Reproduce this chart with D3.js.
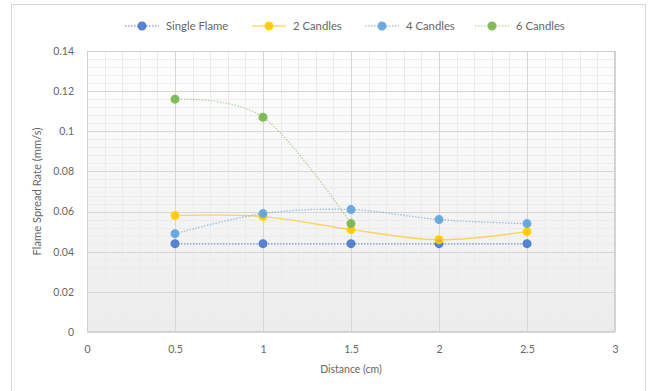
<!DOCTYPE html>
<html><head><meta charset="utf-8">
<script src="https://cdn.jsdelivr.net/npm/d3@7"></script>
<style>body{margin:0;background:#fff;}svg{display:block;font-family:Lato,"Open Sans",sans-serif;}</style>
</head><body><svg id="c" width="658" height="391"></svg>
<script>
const distances = [0.5, 1, 1.5, 2, 2.5];
const seriesNames = ["Single Flame", "2 Candles", "4 Candles", "6 Candles"];
const singleFlame = [0.044, 0.044, 0.044, 0.044, 0.044];
const twoCandles = [0.058, 0.0575, 0.051, 0.046, 0.050];
const fourCandles = [0.049, 0.059, 0.061, 0.056, 0.054];
const sixCandles = [0.116, 0.107, 0.054];
const seriesColors = ["#4472C4", "#FFC000", "#5B9BD5", "#70AD47"];
const xTicks = [0, 0.5, 1, 1.5, 2, 2.5, 3];
const yTicks = [0, 0.02, 0.04, 0.06, 0.08, 0.1, 0.12, 0.14];

const svg = d3.select("#c");
const L = 87, R = 615, T = 51, B = 332;
const x = d3.scaleLinear().domain([0, 3]).range([L, R]);
const y = d3.scaleLinear().domain([0, 0.14]).range([B, T]);

// outer chart border
svg.append("rect").attr("x", 11.5).attr("y", 4.5).attr("width", 634).attr("height", 400)
  .attr("fill", "#fff").attr("stroke", "#d9d9d9");

// plot gradient
const defs = svg.append("defs");
const g = defs.append("linearGradient").attr("id", "bg").attr("x1", 0).attr("y1", 0).attr("x2", 0).attr("y2", 1);
g.append("stop").attr("offset", "0%").attr("stop-color", "#ffffff");
g.append("stop").attr("offset", "100%").attr("stop-color", "#ececec");
svg.append("rect").attr("x", L).attr("y", T).attr("width", R - L).attr("height", B - T).attr("fill", "url(#bg)");

// minor grid
const minorX = d3.range(0, 3.0001, 0.1);
const minorY = d3.range(0, 0.14001, 0.004);
svg.append("g").selectAll("line").data(minorX).join("line")
  .attr("x1", d => Math.round(x(d)) + 0.5).attr("x2", d => Math.round(x(d)) + 0.5)
  .attr("y1", T).attr("y2", B).attr("stroke", "#ececec").attr("stroke-width", 1);
svg.append("g").selectAll("line").data(minorY).join("line")
  .attr("y1", d => Math.round(y(d)) + 0.5).attr("y2", d => Math.round(y(d)) + 0.5)
  .attr("x1", L).attr("x2", R).attr("stroke", "#ececec").attr("stroke-width", 1);
// major grid
svg.append("g").selectAll("line").data(xTicks).join("line")
  .attr("x1", d => Math.round(x(d)) + 0.5).attr("x2", d => Math.round(x(d)) + 0.5)
  .attr("y1", T).attr("y2", B).attr("stroke", "#d6d6d6").attr("stroke-width", 1);
svg.append("g").selectAll("line").data(yTicks).join("line")
  .attr("y1", d => Math.round(y(d)) + 0.5).attr("y2", d => Math.round(y(d)) + 0.5)
  .attr("x1", L).attr("x2", R).attr("stroke", "#d6d6d6").attr("stroke-width", 1);
svg.append("rect").attr("x", L + 0.5).attr("y", T + 0.5).attr("width", R - L - 1).attr("height", B - T - 1)
  .attr("fill", "none").attr("stroke", "#d0d0d0");

// axes
const xAxis = svg.append("g").attr("transform", `translate(0,${B})`)
  .call(d3.axisBottom(x).tickValues(xTicks).tickSize(0).tickPadding(14).tickFormat(d3.format("")));
const yAxis = svg.append("g").attr("transform", `translate(${L},0)`)
  .call(d3.axisLeft(y).tickValues(yTicks).tickSize(0).tickPadding(13).tickFormat(d => d === 0 ? "0" : String(+d.toFixed(2))));
[xAxis, yAxis].forEach(a => {
  a.select(".domain").remove();
  a.selectAll("text").attr("fill", "#666").attr("font-size", 10.5).attr("font-family", "Lato, sans-serif");
});

svg.append("text").attr("x", (L + R) / 2).attr("y", 373).attr("text-anchor", "middle")
  .attr("fill", "#666").attr("font-size", 10.5).text("Distance (cm)");
svg.append("text").attr("transform", `translate(41,${(T + B) / 2}) rotate(-90)`).attr("text-anchor", "middle")
  .attr("fill", "#666").attr("font-size", 11.2).text("Flame Spread Rate (mm/s)");

// series
const allSeries = [singleFlame, twoCandles, fourCandles, sixCandles];
const dashes = ["1.5,1.5", null, "1.5,1.5", "1.5,1.5"];
const opac = [0.6, 0.6, 0.55, 0.45];
const line = d3.line().x(d => x(d[0])).y(d => y(d[1])).curve(d3.curveCardinal.tension(0));
allSeries.forEach((vals, i) => {
  const pts = vals.map((v, j) => [distances[j], v]);
  svg.append("path").datum(pts).attr("d", line).attr("fill", "none")
    .attr("stroke", seriesColors[i]).attr("stroke-width", 1.4).attr("stroke-opacity", opac[i])
    .attr("stroke-dasharray", dashes[i]);
});
allSeries.forEach((vals, i) => {
  const pts = vals.map((v, j) => [distances[j], v]);
  svg.append("g").selectAll("circle").data(pts).join("circle")
    .attr("cx", d => x(d[0])).attr("cy", d => y(d[1])).attr("r", 3.8)
    .attr("fill", seriesColors[i]).attr("fill-opacity", 0.85)
    .attr("stroke", d3.color(seriesColors[i]).brighter(0.3)).attr("stroke-width", 1.4);
});

// legend
const legendX = [142, 269, 382, 492];
seriesNames.forEach((name, i) => {
  const lg = svg.append("g").attr("transform", `translate(${legendX[i]},26)`);
  lg.append("line").attr("x1", -17).attr("x2", 17).attr("y1", 0).attr("y2", 0)
    .attr("stroke", seriesColors[i]).attr("stroke-width", 1.4).attr("stroke-opacity", opac[i])
    .attr("stroke-dasharray", dashes[i]);
  lg.append("circle").attr("r", 3.8).attr("fill", seriesColors[i]).attr("fill-opacity", 0.85)
    .attr("stroke", d3.color(seriesColors[i]).brighter(0.3)).attr("stroke-width", 1.4);
  lg.append("text").attr("x", 24).attr("y", 4).attr("fill", "#666").attr("font-size", 11.3).text(name);
});
</script></body></html>
